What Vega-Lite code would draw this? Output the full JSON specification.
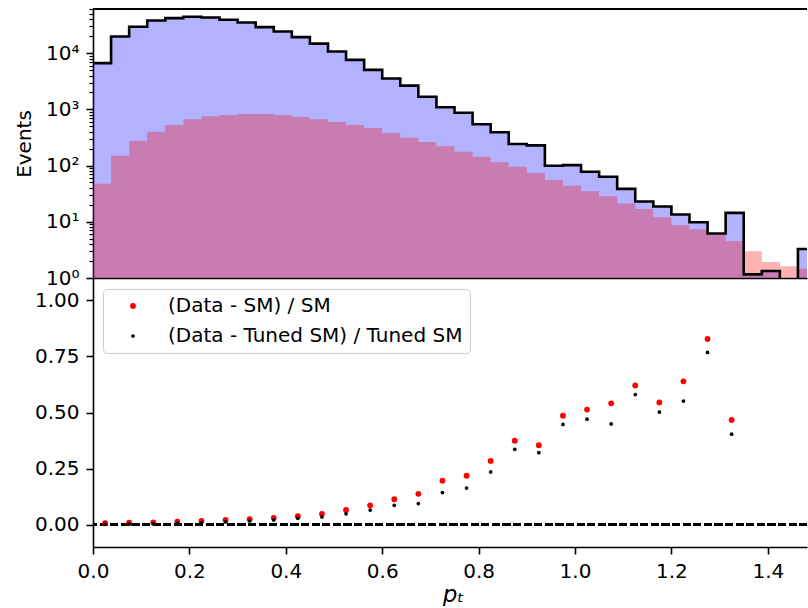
{
  "$schema": "https://vega.github.io/schema/vega-lite/v6.json",
  "padding": {"left": 14, "top": 8, "right": 0, "bottom": 0},
  "bounds": "flush",
  "spacing": 0,
  "config": {
    "font": "DejaVu Sans",
    "view": {"stroke": null},
    "axis": {
      "domainColor": "#000000", "domainWidth": 1.6,
      "tickColor": "#000000", "tickWidth": 1.6, "tickSize": 7,
      "labelColor": "#000000", "labelFontSize": 20, "labelFont": "DejaVu Sans", "labelPadding": 7,
      "labelFlush": false, "labelOverlap": false,
      "titleFont": "DejaVu Sans", "titleFontSize": 20, "titleFontWeight": "normal", "titleColor": "#000000",
      "grid": false
    }
  },
  "datasets": {
    "tuned": [
      {"edge": 0, "count": 6640},
      {"edge": 0.0375, "count": 19800},
      {"edge": 0.075, "count": 29400},
      {"edge": 0.1125, "count": 38100},
      {"edge": 0.15, "count": 42000},
      {"edge": 0.1875, "count": 44400},
      {"edge": 0.225, "count": 43100},
      {"edge": 0.2625, "count": 39200},
      {"edge": 0.3, "count": 35100},
      {"edge": 0.3375, "count": 29000},
      {"edge": 0.375, "count": 24300},
      {"edge": 0.4125, "count": 19300},
      {"edge": 0.45, "count": 14800},
      {"edge": 0.4875, "count": 10700},
      {"edge": 0.525, "count": 7600},
      {"edge": 0.5625, "count": 5040},
      {"edge": 0.6, "count": 3530},
      {"edge": 0.6375, "count": 2640},
      {"edge": 0.675, "count": 1680},
      {"edge": 0.7125, "count": 1090},
      {"edge": 0.75, "count": 873},
      {"edge": 0.7875, "count": 542},
      {"edge": 0.825, "count": 391},
      {"edge": 0.8625, "count": 242},
      {"edge": 0.9, "count": 229},
      {"edge": 0.9375, "count": 99},
      {"edge": 0.975, "count": 102},
      {"edge": 1.0125, "count": 77.5},
      {"edge": 1.05, "count": 63.1},
      {"edge": 1.0875, "count": 38.5},
      {"edge": 1.125, "count": 23.0},
      {"edge": 1.1625, "count": 18.7},
      {"edge": 1.2, "count": 13.5},
      {"edge": 1.2375, "count": 9.8},
      {"edge": 1.275, "count": 6.2},
      {"edge": 1.3125, "count": 14.4},
      {"edge": 1.35, "count": 1.16},
      {"edge": 1.3875, "count": 1.33},
      {"edge": 1.425, "count": 0.5},
      {"edge": 1.4625, "count": 3.29},
      {"edge": 1.5, "count": 3.29}
    ],
    "sm": [
      {"edge": 0, "count": 47.4},
      {"edge": 0.0375, "count": 150},
      {"edge": 0.075, "count": 277},
      {"edge": 0.1125, "count": 401},
      {"edge": 0.15, "count": 527},
      {"edge": 0.1875, "count": 665},
      {"edge": 0.225, "count": 753},
      {"edge": 0.2625, "count": 795},
      {"edge": 0.3, "count": 828},
      {"edge": 0.3375, "count": 828},
      {"edge": 0.375, "count": 795},
      {"edge": 0.4125, "count": 735},
      {"edge": 0.45, "count": 665},
      {"edge": 0.4875, "count": 596},
      {"edge": 0.525, "count": 527},
      {"edge": 0.5625, "count": 466},
      {"edge": 0.6, "count": 380},
      {"edge": 0.6375, "count": 313},
      {"edge": 0.675, "count": 262},
      {"edge": 0.7125, "count": 220},
      {"edge": 0.75, "count": 176},
      {"edge": 0.7875, "count": 144},
      {"edge": 0.825, "count": 114},
      {"edge": 0.8625, "count": 95},
      {"edge": 0.9, "count": 73.5},
      {"edge": 0.9375, "count": 55.2},
      {"edge": 0.975, "count": 43.6},
      {"edge": 1.0125, "count": 35.1},
      {"edge": 1.05, "count": 28.6},
      {"edge": 1.0875, "count": 21.2},
      {"edge": 1.125, "count": 16.8},
      {"edge": 1.1625, "count": 12.1},
      {"edge": 1.2, "count": 8.7},
      {"edge": 1.2375, "count": 7.4},
      {"edge": 1.275, "count": 6.0},
      {"edge": 1.3125, "count": 4.55},
      {"edge": 1.35, "count": 3.0},
      {"edge": 1.3875, "count": 1.92},
      {"edge": 1.425, "count": 1.62},
      {"edge": 1.4625, "count": 1.47},
      {"edge": 1.5, "count": 1.47}
    ],
    "ratios": [
      {"pt": 0.025, "series": "(Data - SM) / SM", "ratio": 0.006},
      {"pt": 0.075, "series": "(Data - SM) / SM", "ratio": 0.009},
      {"pt": 0.125, "series": "(Data - SM) / SM", "ratio": 0.010},
      {"pt": 0.175, "series": "(Data - SM) / SM", "ratio": 0.013},
      {"pt": 0.225, "series": "(Data - SM) / SM", "ratio": 0.016},
      {"pt": 0.275, "series": "(Data - SM) / SM", "ratio": 0.021},
      {"pt": 0.325, "series": "(Data - SM) / SM", "ratio": 0.024},
      {"pt": 0.375, "series": "(Data - SM) / SM", "ratio": 0.030},
      {"pt": 0.425, "series": "(Data - SM) / SM", "ratio": 0.037},
      {"pt": 0.475, "series": "(Data - SM) / SM", "ratio": 0.048},
      {"pt": 0.525, "series": "(Data - SM) / SM", "ratio": 0.065},
      {"pt": 0.575, "series": "(Data - SM) / SM", "ratio": 0.086},
      {"pt": 0.625, "series": "(Data - SM) / SM", "ratio": 0.113},
      {"pt": 0.675, "series": "(Data - SM) / SM", "ratio": 0.137},
      {"pt": 0.725, "series": "(Data - SM) / SM", "ratio": 0.196},
      {"pt": 0.775, "series": "(Data - SM) / SM", "ratio": 0.218},
      {"pt": 0.825, "series": "(Data - SM) / SM", "ratio": 0.284},
      {"pt": 0.875, "series": "(Data - SM) / SM", "ratio": 0.374},
      {"pt": 0.925, "series": "(Data - SM) / SM", "ratio": 0.354},
      {"pt": 0.975, "series": "(Data - SM) / SM", "ratio": 0.486},
      {"pt": 1.025, "series": "(Data - SM) / SM", "ratio": 0.513},
      {"pt": 1.075, "series": "(Data - SM) / SM", "ratio": 0.541},
      {"pt": 1.125, "series": "(Data - SM) / SM", "ratio": 0.621},
      {"pt": 1.175, "series": "(Data - SM) / SM", "ratio": 0.545},
      {"pt": 1.225, "series": "(Data - SM) / SM", "ratio": 0.639},
      {"pt": 1.275, "series": "(Data - SM) / SM", "ratio": 0.828},
      {"pt": 1.325, "series": "(Data - SM) / SM", "ratio": 0.467},
      {"pt": 0.025, "series": "(Data - Tuned SM) / Tuned SM", "ratio": 0.002},
      {"pt": 0.075, "series": "(Data - Tuned SM) / Tuned SM", "ratio": 0.003},
      {"pt": 0.125, "series": "(Data - Tuned SM) / Tuned SM", "ratio": 0.004},
      {"pt": 0.175, "series": "(Data - Tuned SM) / Tuned SM", "ratio": 0.006},
      {"pt": 0.225, "series": "(Data - Tuned SM) / Tuned SM", "ratio": 0.009},
      {"pt": 0.275, "series": "(Data - Tuned SM) / Tuned SM", "ratio": 0.012},
      {"pt": 0.325, "series": "(Data - Tuned SM) / Tuned SM", "ratio": 0.016},
      {"pt": 0.375, "series": "(Data - Tuned SM) / Tuned SM", "ratio": 0.021},
      {"pt": 0.425, "series": "(Data - Tuned SM) / Tuned SM", "ratio": 0.028},
      {"pt": 0.475, "series": "(Data - Tuned SM) / Tuned SM", "ratio": 0.034},
      {"pt": 0.525, "series": "(Data - Tuned SM) / Tuned SM", "ratio": 0.048},
      {"pt": 0.575, "series": "(Data - Tuned SM) / Tuned SM", "ratio": 0.065},
      {"pt": 0.625, "series": "(Data - Tuned SM) / Tuned SM", "ratio": 0.086},
      {"pt": 0.675, "series": "(Data - Tuned SM) / Tuned SM", "ratio": 0.094},
      {"pt": 0.725, "series": "(Data - Tuned SM) / Tuned SM", "ratio": 0.143},
      {"pt": 0.775, "series": "(Data - Tuned SM) / Tuned SM", "ratio": 0.163},
      {"pt": 0.825, "series": "(Data - Tuned SM) / Tuned SM", "ratio": 0.235},
      {"pt": 0.875, "series": "(Data - Tuned SM) / Tuned SM", "ratio": 0.336},
      {"pt": 0.925, "series": "(Data - Tuned SM) / Tuned SM", "ratio": 0.321},
      {"pt": 0.975, "series": "(Data - Tuned SM) / Tuned SM", "ratio": 0.447},
      {"pt": 1.025, "series": "(Data - Tuned SM) / Tuned SM", "ratio": 0.470},
      {"pt": 1.075, "series": "(Data - Tuned SM) / Tuned SM", "ratio": 0.449},
      {"pt": 1.125, "series": "(Data - Tuned SM) / Tuned SM", "ratio": 0.580},
      {"pt": 1.175, "series": "(Data - Tuned SM) / Tuned SM", "ratio": 0.502},
      {"pt": 1.225, "series": "(Data - Tuned SM) / Tuned SM", "ratio": 0.551},
      {"pt": 1.275, "series": "(Data - Tuned SM) / Tuned SM", "ratio": 0.768},
      {"pt": 1.325, "series": "(Data - Tuned SM) / Tuned SM", "ratio": 0.403}
    ]
  },
  "vconcat": [
    {
      "width": 714,
      "height": 269,
      "data": {"name": "tuned"},
      "layer": [
        {
          "mark": {"type": "area", "interpolate": "step-after", "color": "#0000ff", "opacity": 0.3, "clip": true},
          "encoding": {
            "x": {"field": "edge", "type": "quantitative",
                  "scale": {"domain": [0, 1.4813], "nice": false, "zero": false},
                  "axis": {"labels": false, "ticks": false, "title": null, "domain": true}},
            "y": {"field": "count", "type": "quantitative",
                  "scale": {"type": "log", "domain": [1, 61000], "nice": false},
                  "axis": {
                    "values": [1,2,3,4,5,6,7,8,9,10,20,30,40,50,60,70,80,90,100,200,300,400,500,600,700,800,900,1000,2000,3000,4000,5000,6000,7000,8000,9000,10000,20000,30000,40000,50000,60000],
                    "labelExpr": "datum.value == 1 ? '10⁰' : datum.value == 10 ? '10¹' : datum.value == 100 ? '10²' : datum.value == 1000 ? '10³' : datum.value == 10000 ? '10⁴' : ''",
                    "labelFontSize": {"condition": {"test": "indexof([1,10,100,1000,10000], datum.value) >= 0", "value": 20}, "value": 0},
                    "tickSize": {"condition": {"test": "indexof([1,10,100,1000,10000], datum.value) >= 0", "value": 7}, "value": 4},
                    "tickWidth": {"condition": {"test": "indexof([1,10,100,1000,10000], datum.value) >= 0", "value": 1.6}, "value": 1.2},
                    "title": "Events",
                    "titleX": -69, "titleY": 134.5, "titleAngle": 270,
                    "titleAlign": "center", "titleBaseline": "middle"
                  }},
            "y2": {"datum": 1}
          }
        },
        {
          "data": {"name": "sm"},
          "mark": {"type": "area", "interpolate": "step-after", "color": "#ff0000", "opacity": 0.3, "clip": true},
          "encoding": {
            "x": {"field": "edge", "type": "quantitative"},
            "y": {"field": "count", "type": "quantitative"},
            "y2": {"datum": 1}
          }
        },
        {
          "mark": {"type": "line", "interpolate": "step-after", "color": "#000000", "strokeWidth": 2.6, "clip": true},
          "encoding": {
            "x": {"field": "edge", "type": "quantitative"},
            "y": {"field": "count", "type": "quantitative"}
          }
        },
        {
          "mark": {"type": "rule", "color": "#000000", "strokeWidth": 1.6},
          "encoding": {"y": {"datum": 61000}}
        }
      ]
    },
    {
      "width": 714,
      "height": 269,
      "data": {"name": "ratios"},
      "layer": [
        {
          "mark": {"type": "rule", "color": "#000000", "strokeWidth": 1.6, "strokeDash": [7.4, 3.2]},
          "encoding": {"y": {"datum": 0, "type": "quantitative",
                  "scale": {"domain": [-0.1, 1.1], "nice": false, "zero": false}}}
        },
        {
          "mark": {"type": "point", "shape": "circle", "filled": true, "opacity": 1, "strokeWidth": 0},
          "encoding": {
            "x": {"field": "pt", "type": "quantitative",
                  "scale": {"domain": [0, 1.4813], "nice": false, "zero": false},
                  "axis": {"values": [0, 0.2, 0.4, 0.6, 0.8, 1.0, 1.2, 1.4], "format": ".1f",
                           "title": "pₜ", "titleFontStyle": "italic", "titleFontSize": 23,
                           "titleX": 360, "titleY": 54, "titleAlign": "center", "titleBaseline": "alphabetic"}},
            "y": {"field": "ratio", "type": "quantitative",
                  "scale": {"domain": [-0.1, 1.1], "nice": false, "zero": false},
                  "axis": {"values": [0, 0.25, 0.5, 0.75, 1.0], "format": ".2f", "title": null}},
            "color": {"field": "series", "type": "nominal",
                      "scale": {"domain": ["(Data - SM) / SM", "(Data - Tuned SM) / Tuned SM"], "range": ["#ff0000", "#000000"]},
                      "legend": {"title": null, "orient": "none", "legendX": 10, "legendY": 280,
                                 "labelFontSize": 20, "labelFont": "DejaVu Sans", "labelColor": "#000000", "labelLimit": 600,
                                 "padding": 7, "rowPadding": 10, "symbolOffset": 13, "labelOffset": 25,
                                 "strokeColor": "#cccccc", "fillColor": "rgba(255,255,255,0.8)", "cornerRadius": 4,
                                 "symbolType": "circle", "symbolStrokeWidth": 0}},
            "size": {"field": "series", "type": "nominal",
                     "scale": {"domain": ["(Data - SM) / SM", "(Data - Tuned SM) / Tuned SM"], "range": [34, 14]}}
          }
        }
      ]
    }
  ]
}
